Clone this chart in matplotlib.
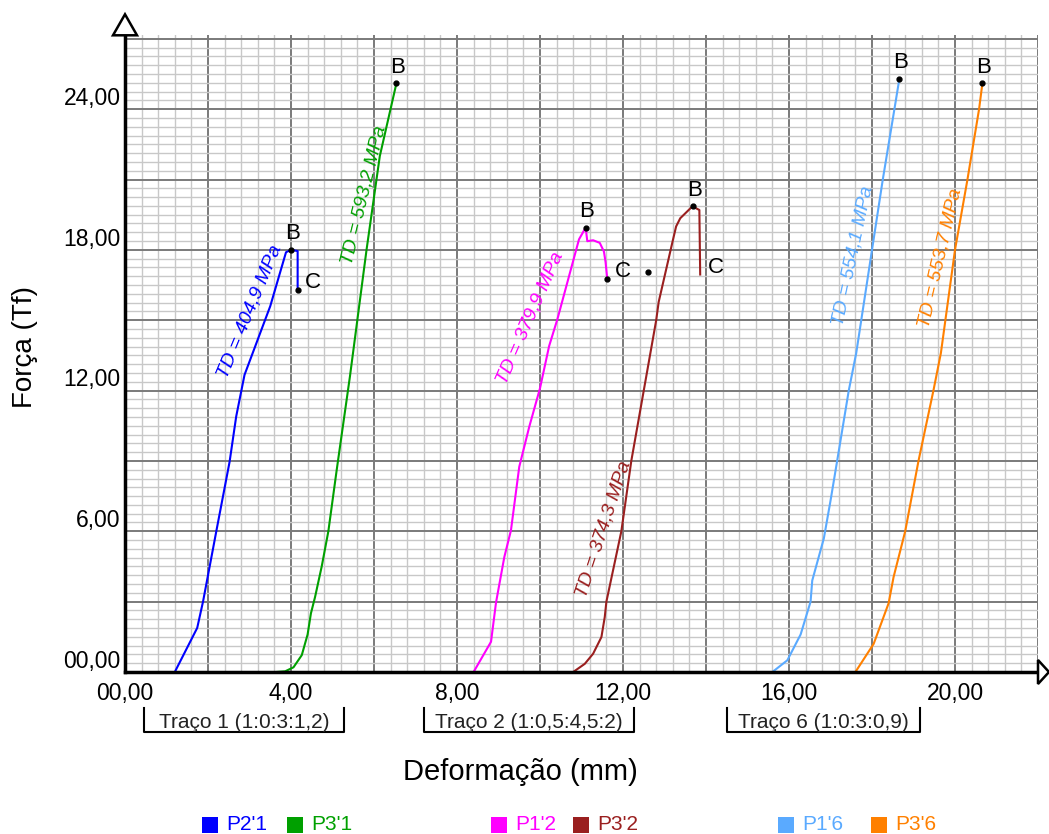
import matplotlib
matplotlib.use('Agg')
import matplotlib.pyplot as plt
import matplotlib.transforms as mtransforms
from matplotlib.patches import Polygon, Rectangle
import numpy as np

plt.rcParams['font.family'] = ['Liberation Sans', 'DejaVu Sans']

# dados (deformação em mm, força em Tf)
names = ["P2'1", "P3'1", "P1'2", "P3'2", "P1'6", "P3'6"]
colors = ['#0000ff', '#00a000', '#ff00ff', '#9a1f1f', '#5aaaff', '#ff8000']

p21_x = [1.2, 1.74, 1.88, 2.2, 2.52, 2.68, 2.88, 3.5, 3.88, 4.0, 4.16, 4.16]
p21_y = [0, 1.88, 3.0, 6.0, 8.96, 10.9, 12.67, 15.6, 17.9, 18.0, 17.95, 16.3]

p31_x = [3.64, 3.86, 4.06, 4.26, 4.4, 4.48, 4.58, 4.74, 4.9, 5.1, 5.26, 5.42, 5.82, 6.14, 6.54]
p31_y = [0, 0.03, 0.2, 0.72, 1.6, 2.5, 3.2, 4.5, 6.0, 8.6, 10.6, 12.6, 18.0, 22.0, 25.1]

p12_x = [8.4, 8.82, 8.94, 9.14, 9.3, 9.5, 9.74, 10.0, 10.22, 10.42, 10.94, 11.1,
         11.14, 11.28, 11.44, 11.54, 11.58, 11.62]
p12_y = [0, 1.29, 2.96, 4.9, 6.04, 8.75, 10.45, 12.1, 13.9, 15.05, 18.45, 18.95,
         18.37, 18.41, 18.3, 17.93, 17.48, 16.77]

p32_x = [10.8, 11.08, 11.28, 11.48, 11.56, 11.6, 11.96, 12.2, 12.5, 12.8, 12.86,
         13.2, 13.28, 13.38, 13.64, 13.68, 13.84, 13.86]
p32_y = [0, 0.35, 0.78, 1.49, 2.34, 3.0, 6.0, 9.0, 12.0, 15.0, 15.78,
         18.4, 19.0, 19.35, 19.8, 19.85, 19.7, 16.95]

p16_x = [15.6, 15.96, 16.28, 16.52, 16.56, 16.84, 17.0, 17.16, 17.44, 17.62, 18.0, 18.26, 18.54, 18.66]
p16_y = [0, 0.5, 1.6, 3.0, 3.9, 5.7, 7.3, 9.0, 12.0, 13.6, 18.0, 21.0, 24.0, 25.3]

p36_x = [17.6, 18.04, 18.4, 18.52, 18.8, 19.12, 19.48, 19.66, 20.0, 20.3, 20.58, 20.66]
p36_y = [0, 1.2, 2.93, 4.05, 6.0, 9.0, 12.0, 13.6, 18.0, 21.0, 24.0, 25.1]

series_x = [p21_x, p31_x, p12_x, p32_x, p16_x, p36_x]
series_y = [p21_y, p31_y, p12_y, p32_y, p16_y, p36_y]

# tensões (TD) escritas ao longo das curvas
td_text = ['TD = 404,9 MPa', 'TD = 593,2 MPa', 'TD = 379,9 MPa',
           'TD = 374,3 MPa', 'TD = 554,1 MPa', 'TD = 553,7 MPa']
td_x = [3.01, 5.76, 9.76, 11.53, 17.53, 19.64]
td_y = [15.36, 20.34, 15.08, 6.09, 17.75, 17.64]
td_angle = [67.5, 76.3, 66.3, 71.8, 78.0, 76.9]

# pontos C (ruptura)
c_series = [0, 2, 3]
c_dot = [True, True, False]
extra_x = [12.6]
extra_y = [17.04]

# traços
trace_labels = ['Traço 1 (1:0:3:1,2)', 'Traço 2 (1:0,5:4,5:2)', 'Traço 6 (1:0:3:0,9)']
trace_start = [0.46, 7.2, 14.5]
trace_end = [5.28, 12.27, 19.16]

x_tick_values = [0, 4, 8, 12, 16, 20]
x_tick_labels = ['00,00', '4,00', '8,00', '12,00', '16,00', '20,00']
y_tick_values = [0, 6, 12, 18, 24]
y_tick_labels = ['00,00', '6,00', '12,00', '18,00', '24,00']

W, H = 1049, 834
fig = plt.figure(figsize=(W / 100, H / 100), dpi=100)
ax_l, ax_b, ax_w, ax_h = 125, 162, 913, 636.7
ax = fig.add_axes([ax_l / W, ax_b / H, ax_w / W, ax_h / H])
ax.set_xlim(0, 22)
ax.set_ylim(0, 27.15)

# grade
xmaj = np.arange(0, 22.01, 2)
ymaj = np.arange(0, 27.01, 3)
ax.set_xticks(xmaj)
ax.set_xticklabels([x_tick_labels[x_tick_values.index(v)] if v in x_tick_values else '' for v in xmaj])
ax.set_yticks(ymaj)
ax.set_yticklabels([y_tick_labels[y_tick_values.index(v)] if v in y_tick_values else '' for v in ymaj])
ax.set_xticks(np.arange(0, 22.01, 0.4), minor=True)
ax.set_yticks(np.arange(0, 27.15, 0.375), minor=True)
ax.grid(which='minor', color='#c8c8c8', lw=1.0)
ax.grid(which='major', color='#7a7a7a', lw=1.4)
ax.set_axisbelow(True)
ax.tick_params(which='both', length=0)
ax.tick_params(axis='x', labelsize=16.5, pad=7)
ax.tick_params(axis='y', labelsize=16.5, pad=3)
for lab in ax.get_yticklabels():
    lab.set_va('baseline')
    lab.set_transform(lab.get_transform() + mtransforms.ScaledTranslation(0, 3 / 72, fig.dpi_scale_trans))

for s in ['top', 'right']:
    ax.spines[s].set_visible(False)
for s in ['left', 'bottom']:
    ax.spines[s].set_linewidth(2.5)
    ax.spines[s].set_color('black')
    ax.spines[s].set_zorder(5)

# setas dos eixos
dx, dy = 11 / ax_w, 12 / ax_h
ax.add_patch(Polygon([(1, -dy), (1, dy), (1 + dx, 0)], closed=True, transform=ax.transAxes,
                     facecolor='white', edgecolor='black', lw=1.8, clip_on=False, zorder=6))
wx, hy = 12 / ax_w, 21 / ax_h
ax.add_patch(Polygon([(-wx, 1), (wx, 1), (0, 1 + hy)], closed=True, transform=ax.transAxes,
                     facecolor='white', edgecolor='black', lw=1.8, clip_on=False, zorder=6))

# curvas
for xs, ys, c in zip(series_x, series_y, colors):
    ax.plot(xs, ys, color=c, lw=1.5, zorder=3)
    i = int(np.argmax(ys))
    ax.plot(xs[i], ys[i], 'o', color='black', ms=3.5, zorder=4)
    ax.annotate('B', (xs[i], ys[i]), xytext=(1, 11.5), textcoords='offset points',
                ha='center', va='center', fontsize=16, color='black')

for k, has_dot in zip(c_series, c_dot):
    cx, cy = series_x[k][-1], series_y[k][-1]
    if has_dot:
        ax.plot(cx, cy, 'o', color='black', ms=3.5, zorder=4)
    ax.annotate('C', (cx, cy), xytext=(11, 5), textcoords='offset points',
                ha='center', va='center', fontsize=16, color='black')
ax.plot(extra_x, extra_y, 'o', color='black', ms=3.5, zorder=4)

for t, x, y, a, c in zip(td_text, td_x, td_y, td_angle, colors):
    ax.text(x, y, t, rotation=a, rotation_mode='anchor', ha='center', va='center',
            fontsize=14, style='italic', color=c, zorder=4)

# colchetes dos traços
trans = mtransforms.blended_transform_factory(ax.transData, ax.transAxes)
y_top, y_bot = -36 / ax_h, -60 / ax_h
for lab, x0, x1 in zip(trace_labels, trace_start, trace_end):
    ax.plot([x0, x0, x1, x1], [y_top, y_bot, y_bot, y_top], color='black', lw=1.5,
            transform=trans, clip_on=False)
    ax.text((x0 + x1) / 2, -56 / ax_h, lab, transform=trans, ha='center', va='baseline',
            fontsize=15, color='#222222')

fig.text(25 / W, 1 - 347 / H, 'Força (Tf)', rotation=90, ha='center', va='center', fontsize=20)
fig.text(520 / W, 1 - 772 / H, 'Deformação (mm)', ha='center', va='center', fontsize=21)

# legenda
leg_square_x = [202, 287, 491, 573, 778, 871]
for name, c, sx in zip(names, colors, leg_square_x):
    fig.patches.append(Rectangle((sx / W, (H - 833) / H), 16 / W, 16 / H, transform=fig.transFigure,
                                 facecolor=c, edgecolor='none'))
    fig.text((sx + 24) / W, 1 - 825 / H, name, ha='left', va='center', fontsize=15, color=c)

fig.savefig('out.png', dpi=100)
